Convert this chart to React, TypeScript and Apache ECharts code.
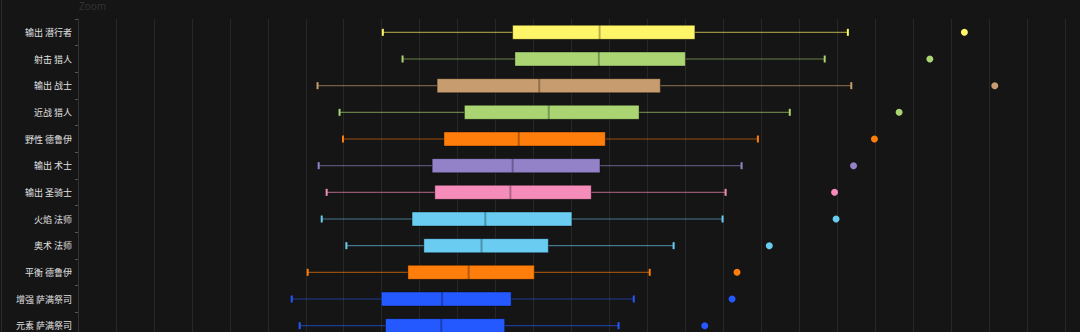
import React, { useEffect, useRef } from "react";
import * as echarts from "echarts";

const categories = [
  "输出 潜行者",
  "射击 猎人",
  "输出 战士",
  "近战 猎人",
  "野性 德鲁伊",
  "输出 术士",
  "输出 圣骑士",
  "火焰 法师",
  "奥术 法师",
  "平衡 德鲁伊",
  "增强 萨满祭司",
  "元素 萨满祭司",
];
const lows = [8030, 8550, 6310, 6890, 6980, 6340, 6550, 6420, 7070, 6050, 5630, 5840];
const q1s = [11450, 11510, 9460, 10180, 9640, 9330, 9400, 8800, 9110, 8690, 7990, 8100];
const medians = [13740, 13720, 12150, 12400, 11610, 11450, 11390, 10730, 10630, 10290, 9590, 9570];
const q3s = [16250, 16000, 15340, 14780, 13890, 13750, 13520, 13010, 12390, 12020, 11410, 11240];
const highs = [20280, 19670, 20370, 18750, 17910, 17480, 17060, 16980, 15690, 15060, 14640, 14240];
const outliers = [23350, 22440, 24150, 21630, 20980, 20430, 19930, 19970, 18210, 17360, 17230, 16510];
const colors = [
  "#FFF569",
  "#ABD473",
  "#C79C6E",
  "#ABD473",
  "#FF7D0A",
  "#9482C9",
  "#F58CBA",
  "#69CCF0",
  "#69CCF0",
  "#FF7D0A",
  "#2459FF",
  "#2459FF",
];
const xMin = 0;
const xMax = 26000;
const xInterval = 1000;

export default function App() {
  const ref = useRef<HTMLDivElement>(null);

  useEffect(() => {
    if (!ref.current) return;
    const chart = echarts.init(ref.current, null, { renderer: "svg" });

    const boxData = categories.map((_, i) => [i, lows[i], q1s[i], medians[i], q3s[i], highs[i]]);
    const outlierData = categories.map((_, i) => ({
      value: [outliers[i], i],
      itemStyle: { color: colors[i], opacity: 1 },
    }));

    chart.setOption({
      animation: false,
      backgroundColor: "#151515",
      title: {
        text: "Zoom",
        left: 79,
        top: 1,
        padding: 0,
        textStyle: { color: "#333333", fontSize: 10, fontWeight: "normal", fontFamily: "Noto Sans" },
      },
      graphic: [
        {
          type: "line",
          shape: { x1: 1.5, y1: 0, x2: 1.5, y2: 400 },
          style: { stroke: "#2a2a2a", lineWidth: 1 },
          silent: true,
        },
      ],
      grid: { left: 78, right: 15, top: 19, bottom: 21 },
      xAxis: {
        type: "value",
        min: xMin,
        max: xMax,
        interval: xInterval,
        axisLine: { show: false },
        axisTick: { show: false },
        axisLabel: { show: false },
        splitLine: { show: true, lineStyle: { color: "#272727", width: 1 } },
      },
      yAxis: {
        type: "category",
        data: categories,
        inverse: true,
        axisLine: { show: true, lineStyle: { color: "#333333" } },
        axisTick: { show: true, length: 3, lineStyle: { color: "#555555" } },
        axisLabel: {
          color: "#e0e0e0",
          fontSize: 9,
          margin: 6,
          fontFamily: "Noto Sans CJK SC",
        },
        splitLine: { show: false },
      },
      series: [
        {
          type: "custom",
          data: boxData,
          encode: { y: 0, x: [1, 2, 3, 4, 5] },
          renderItem: (params: any, api: any) => {
            const idx = api.value(0);
            const color = colors[params.dataIndex];
            const pLow = api.coord([api.value(1), idx]);
            const pQ1 = api.coord([api.value(2), idx]);
            const pMed = api.coord([api.value(3), idx]);
            const pQ3 = api.coord([api.value(4), idx]);
            const pHigh = api.coord([api.value(5), idx]);
            const y = pMed[1];
            const bh = 14;
            const ch = 7;
            return {
              type: "group",
              children: [
                {
                  type: "line",
                  shape: { x1: pLow[0], y1: y, x2: pQ1[0], y2: y },
                  style: { stroke: color, opacity: 0.55, lineWidth: 1.2 },
                },
                {
                  type: "line",
                  shape: { x1: pQ3[0], y1: y, x2: pHigh[0], y2: y },
                  style: { stroke: color, opacity: 0.55, lineWidth: 1.2 },
                },
                {
                  type: "rect",
                  shape: { x: pLow[0] - 1, y: y - ch / 2, width: 2, height: ch },
                  style: { fill: color },
                },
                {
                  type: "rect",
                  shape: { x: pHigh[0] - 1, y: y - ch / 2, width: 2, height: ch },
                  style: { fill: color },
                },
                {
                  type: "rect",
                  shape: { x: pQ1[0], y: y - bh / 2, width: pQ3[0] - pQ1[0], height: bh },
                  style: { fill: color, stroke: "rgba(0,0,0,0.35)", lineWidth: 1 },
                },
                {
                  type: "line",
                  shape: { x1: pMed[0], y1: y - bh / 2, x2: pMed[0], y2: y + bh / 2 },
                  style: { stroke: "rgba(0,0,0,0.28)", lineWidth: 2 },
                },
              ],
            };
          },
        },
        {
          type: "scatter",
          data: outlierData,
          symbol: "circle",
          symbolSize: 7,
          itemStyle: { opacity: 1 },
        },
      ],
    });

    return () => chart.dispose();
  }, []);

  return (
    <div
      style={{
        position: "fixed",
        left: 0,
        top: 0,
        width: 1080,
        height: 332,
        overflow: "hidden",
        background: "#151515",
      }}
    >
      <div ref={ref} style={{ width: 1080, height: 360 }} />
    </div>
  );
}
